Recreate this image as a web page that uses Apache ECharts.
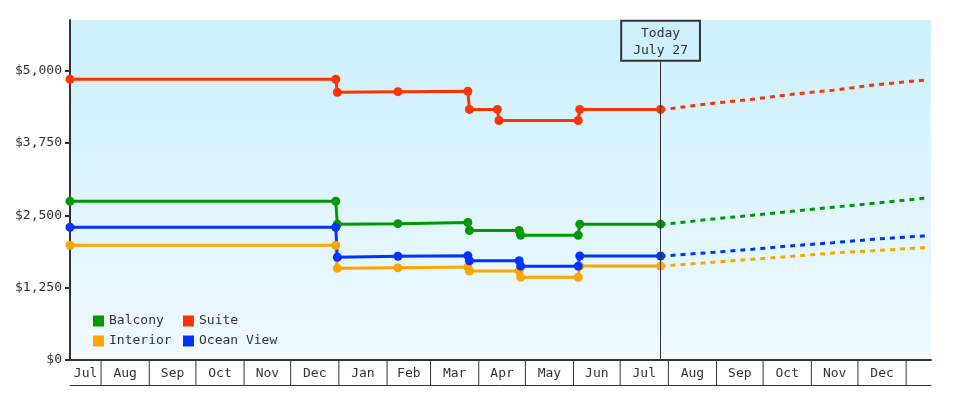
<!DOCTYPE html>
<html>
<head>
<meta charset="utf-8">
<script src="https://cdn.jsdelivr.net/npm/echarts@6/dist/echarts.min.js"></script>
<style>
  html, body { margin: 0; padding: 0; background: #fff; }
  #chart { width: 980px; height: 400px; outline: 1px solid #e9aa6b; outline-offset: -1px; }
</style>
</head>
<body>
<div id="chart"></div>
<script>
// ----------資料----------
const xStart = '2014-07-12';
const xEnd = '2016-01-17';
const today = '2015-07-27';
const todayLabel = 'Today\nJuly 27';

// 月份標籤 (從 2014-07 起, 最後一格 2016-01 不標)
const monthLabels = ['Jul', 'Aug', 'Sep', 'Oct', 'Nov', 'Dec', 'Jan', 'Feb', 'Mar',
  'Apr', 'May', 'Jun', 'Jul', 'Aug', 'Sep', 'Oct', 'Nov', 'Dec', ''];
const yTicks = [0, 1250, 2500, 3750, 5000];

// 歷史價格
const balconyHistory = [
  ['2014-07-12', 2743], ['2014-12-30', 2743], ['2014-12-31', 2345], ['2015-02-08', 2356],
  ['2015-03-25', 2376], ['2015-03-26', 2238], ['2015-04-27', 2238], ['2015-04-28', 2155],
  ['2015-06-04', 2155], ['2015-06-05', 2347], ['2015-07-27', 2347],
];
const interiorHistory = [
  ['2014-07-12', 1982], ['2014-12-30', 1982], ['2014-12-31', 1585], ['2015-02-08', 1595],
  ['2015-03-25', 1607], ['2015-03-26', 1538], ['2015-04-27', 1538], ['2015-04-28', 1429],
  ['2015-06-04', 1429], ['2015-06-05', 1623], ['2015-07-27', 1623],
];
const oceanHistory = [
  ['2014-07-12', 2293], ['2014-12-30', 2293], ['2014-12-31', 1775], ['2015-02-08', 1792],
  ['2015-03-25', 1803], ['2015-03-26', 1714], ['2015-04-27', 1714], ['2015-04-28', 1621],
  ['2015-06-04', 1621], ['2015-06-05', 1797], ['2015-07-27', 1797],
];
const suiteHistory = [
  ['2014-07-12', 4851], ['2014-12-30', 4851], ['2014-12-31', 4627], ['2015-02-08', 4637],
  ['2015-03-25', 4644], ['2015-03-26', 4330], ['2015-04-13', 4330], ['2015-04-14', 4139],
  ['2015-06-04', 4139], ['2015-06-05', 4330], ['2015-07-27', 4330],
];

// 預測 (虛線)
const forecastDates = ['2015-07-27', '2015-08-04', '2015-08-30', '2015-09-24', '2015-10-20',
  '2015-11-15', '2015-12-11', '2016-01-12', '2016-01-15'];
const balconyForecast = [2347, 2363, 2437, 2501, 2570, 2639, 2708, 2795, 2800];
const interiorForecast = [1623, 1637, 1689, 1740, 1792, 1849, 1889, 1941, 1945];
const oceanForecast = [1797, 1810, 1861, 1913, 1975, 2027, 2086, 2143, 2148];
const suiteForecast = [4330, 4350, 4437, 4506, 4592, 4661, 4753, 4834, 4840];
// ------------------------

const FONT = 'DejaVu Sans Mono';
const TEXT = '#333';
const colors = { Balcony: '#009900', Interior: '#ffa500', 'Ocean View': '#0033ff', Suite: '#ff3300' };

const xMin = +new Date(xStart + 'T00:00:00');
const xMax = +new Date(xEnd + 'T00:00:00');

const monthBoxes = monthLabels.map((_, i) => [
  +new Date(2014, 6 + i, 1), +new Date(2014, 7 + i, 1),
]);

const fmtMoney = (v) => '$' + String(v).replace(/\B(?=(\d{3})+(?!\d))/g, ',');

const historySeries = (name, data) => ({
  name,
  type: 'line',
  data,
  symbol: 'circle',
  symbolSize: 9,
  showAllSymbol: true,
  itemStyle: { color: colors[name] },
  lineStyle: { color: colors[name], width: 3 },
  emphasis: { disabled: true },
});

const forecastSeries = (name, values) => ({
  name,
  type: 'line',
  data: forecastDates.map((d, i) => [d, values[i]]),
  showSymbol: false,
  itemStyle: { color: colors[name] },
  lineStyle: { color: colors[name], width: 3, type: [5, 5] },
  emphasis: { disabled: true },
});

const legendCommon = {
  orient: 'vertical',
  icon: 'rect',
  itemWidth: 11,
  itemHeight: 11,
  itemGap: 4,
  padding: 0,
  selectedMode: false,
  textStyle: { fontFamily: FONT, fontSize: 13, color: TEXT, lineHeight: 16 },
};

const chart = echarts.init(document.getElementById('chart'));

chart.setOption({
  animation: false,
  backgroundColor: '#fff',
  textStyle: { fontFamily: FONT },
  grid: [
    {
      left: 70, right: 49, top: 20, bottom: 40,
      show: true, borderWidth: 0,
      backgroundColor: new echarts.graphic.LinearGradient(0, 0, 0, 1, [
        { offset: 0, color: '#ccf0fc' },
        { offset: 1, color: '#f0faff' },
      ]),
    },
    { left: 70, right: 49, top: 360, height: 25 },
  ],
  legend: [
    { ...legendCommon, left: 93, top: 313, data: ['Balcony', 'Interior'] },
    { ...legendCommon, left: 183, top: 313, data: ['Suite', 'Ocean View'] },
  ],
  xAxis: [
    {
      type: 'time', gridIndex: 0, min: xMin, max: xMax,
      axisLine: { show: true, lineStyle: { color: TEXT, width: 2 } },
      axisTick: { show: false }, axisLabel: { show: false }, splitLine: { show: false },
    },
    {
      type: 'time', gridIndex: 1, min: xMin, max: xMax, position: 'bottom',
      axisLine: { show: true, lineStyle: { color: TEXT, width: 1 } },
      axisTick: { show: false }, axisLabel: { show: false }, splitLine: { show: false },
    },
  ],
  yAxis: [
    {
      type: 'value', gridIndex: 0, min: 0, max: 5875,
      axisLine: { show: true, lineStyle: { color: TEXT, width: 2 } },
      axisTick: { show: true, length: 5, lineStyle: { color: TEXT, width: 2 }, customValues: yTicks },
      axisLabel: { color: TEXT, fontFamily: FONT, fontSize: 13, margin: 8, formatter: fmtMoney, customValues: yTicks },
      splitLine: { show: false },
    },
    { type: 'value', gridIndex: 1, min: 0, max: 1, show: false },
  ],
  series: [
    // 月份格子
    {
      type: 'custom',
      xAxisIndex: 1,
      yAxisIndex: 1,
      silent: true,
      data: monthBoxes,
      encode: { x: [0, 1] },
      renderItem: (params, api) => {
        const start = api.value(0);
        const end = api.value(1);
        const s = Math.max(start, xMin);
        const e = Math.min(end, xMax);
        const top = api.coord([s, 1]);
        const bottom = api.coord([e, 0]);
        const children = [];
        if (start > xMin) {
          children.push({
            type: 'line',
            shape: { x1: top[0], y1: top[1], x2: top[0], y2: bottom[1] },
            style: { stroke: TEXT, lineWidth: 1 },
          });
        }
        const label = monthLabels[params.dataIndex];
        if (label) {
          children.push({
            type: 'text',
            x: (top[0] + bottom[0]) / 2,
            y: (top[1] + bottom[1]) / 2 + 1,
            style: { text: label, fill: TEXT, font: `13px "${FONT}"`, align: 'center', verticalAlign: 'middle' },
          });
        }
        return { type: 'group', children };
      },
    },
    historySeries('Interior', interiorHistory),
    historySeries('Balcony', balconyHistory),
    historySeries('Ocean View', oceanHistory),
    {
      ...historySeries('Suite', suiteHistory),
      markLine: {
        silent: true,
        symbol: 'none',
        lineStyle: { color: TEXT, width: 1, type: 'solid' },
        label: {
          show: true,
          position: 'end',
          distance: 0,
          formatter: todayLabel,
          color: TEXT,
          fontFamily: FONT,
          fontSize: 13,
          lineHeight: 17,
          padding: [4, 12, 2, 12],
          borderColor: TEXT,
          borderWidth: 1,
          backgroundColor: 'transparent',
        },
        data: [[{ coord: [today, 0] }, { coord: [today, 5173] }]],
      },
    },
    forecastSeries('Interior', interiorForecast),
    forecastSeries('Balcony', balconyForecast),
    forecastSeries('Ocean View', oceanForecast),
    forecastSeries('Suite', suiteForecast),
  ],
});
</script>
</body>
</html>
